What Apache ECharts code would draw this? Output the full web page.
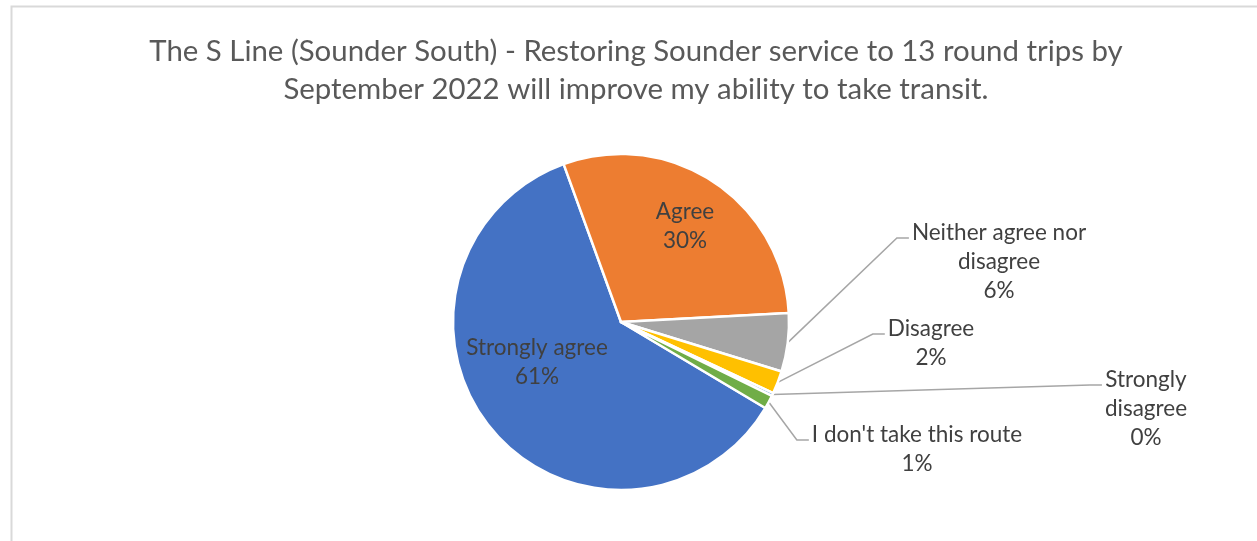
<!DOCTYPE html>
<html>
<head>
<meta charset="utf-8">
<script src="https://cdn.jsdelivr.net/npm/echarts@6/dist/echarts.min.js"></script>
<style>
  html, body { margin: 0; padding: 0; background: #fff; overflow: hidden; }
  #chart { width: 1272px; height: 541px; }
</style>
</head>
<body>
<div id="chart"></div>
<script>
// ---- data ----
const titleText = 'The S Line (Sounder South) - Restoring Sounder service to 13 round trips by\nSeptember 2022 will improve my ability to take transit.';
const categories = ['Strongly agree', 'Agree', 'Neither agree nor disagree', 'Disagree', 'Strongly disagree', "I don't take this route"];
const labelTexts = ['Strongly agree', 'Agree', 'Neither agree nor\ndisagree', 'Disagree', 'Strongly\ndisagree', "I don't take this route"];
const values = [60.9, 29.7, 5.6, 2.2, 0.3, 1.3];
const colors = ['#4472C4', '#ED7D31', '#A5A5A5', '#FFC000', '#5B9BD5', '#70AD47'];

// ---- label layout (centre x, top y of each label block) ----
const labelPlace = [
  { x: 537, y: 333, inside: true },
  { x: 685, y: 197, inside: true },
  { x: 999, y: 218, inside: false },
  { x: 931, y: 314, inside: false },
  { x: 1146, y: 365, inside: false },
  { x: 917, y: 420, inside: false }
];
const LINE_H = 29;

const chart = echarts.init(document.getElementById('chart'), null, { renderer: 'canvas' });

const option = {
  animation: false,
  backgroundColor: '#ffffff',
  title: {
    text: titleText,
    left: 'center',
    top: 28,
    textStyle: {
      fontFamily: 'Lato',
      fontWeight: 'normal',
      fontSize: 29.4,
      lineHeight: 38,
      color: '#595959'
    }
  },
  graphic: [{
    type: 'rect',
    silent: true,
    shape: { x: 11.5, y: 6.5, width: 1400, height: 700 },
    style: { fill: null, stroke: '#d9d9d9', lineWidth: 2 }
  }],
  series: [{
    type: 'pie',
    center: [621, 322],
    radius: 168,
    startAngle: -30.8,
    clockwise: true,
    percentPrecision: 0,
    avoidLabelOverlap: false,
    itemStyle: { borderColor: '#ffffff', borderWidth: 2.5 },
    label: {
      show: true,
      position: 'outside',
      fontFamily: 'Lato',
      fontSize: 22.5,
      lineHeight: LINE_H,
      color: '#404040',
      align: 'center',
      formatter: p => labelTexts[p.dataIndex] + '\n' + p.percent + '%'
    },
    labelLine: {
      show: true,
      length: 10,
      length2: 10,
      lineStyle: { color: '#a6a6a6', width: 1.5 }
    },
    emphasis: { disabled: true },
    labelLayout: function (params) {
      const pl = labelPlace[params.dataIndex];
      const w = params.labelRect.width;
      const out = { x: pl.x, y: pl.y, align: 'center', verticalAlign: 'top' };
      if (!pl.inside && params.labelLinePoints) {
        const start = params.labelLinePoints[0];
        const endX = pl.x - w / 2 - 3;
        const endY = pl.y + 20;
        out.labelLinePoints = [start, [endX - 12, endY], [endX, endY]];
      }
      return out;
    },
    data: categories.map((c, i) => ({
      name: c,
      value: values[i],
      itemStyle: { color: colors[i] },
      labelLine: { show: !labelPlace[i].inside }
    }))
  }]
};

chart.setOption(option);
</script>
</body>
</html>
